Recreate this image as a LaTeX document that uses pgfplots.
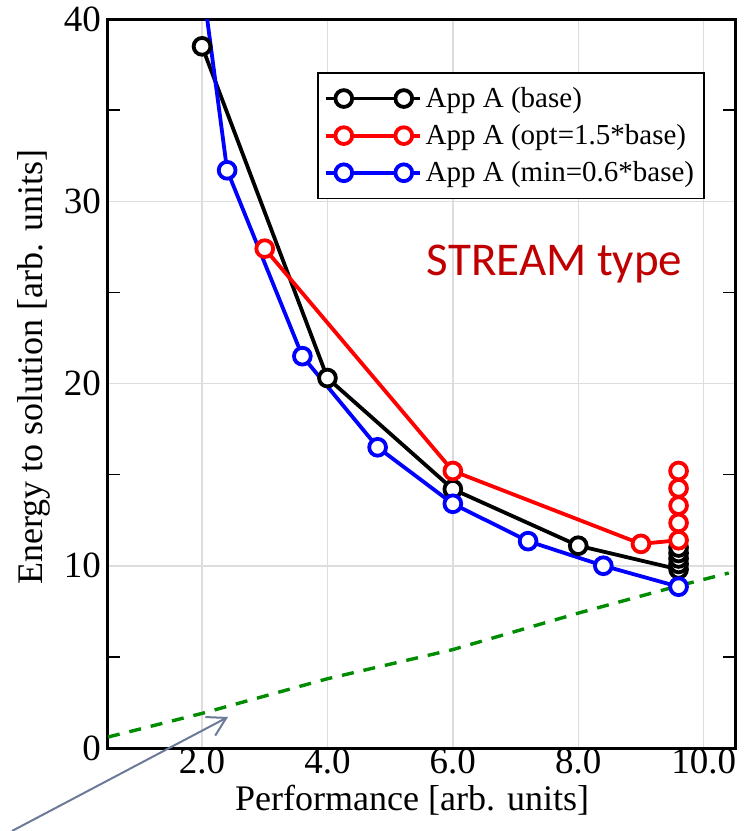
\documentclass[border=0pt]{standalone}
\usepackage{pgfplots}
\pgfplotsset{compat=1.18}
\usepackage{fontspec}
\setmainfont{Liberation Serif}
\newfontfamily\calibri{Carlito}
\usetikzlibrary{arrows.meta}
\definecolor{streamred}{RGB}{192,0,0}
\definecolor{arrowgray}{RGB}{107,122,153}
\definecolor{dgreen}{RGB}{0,140,0}
\definecolor{gridgray}{RGB}{221,221,221}
\begin{document}
\begin{tikzpicture}
\begin{axis}[name=ax,
  scale only axis, width=313.5pt, height=364.5pt,
  xmin=0.5, xmax=10.5, ymin=0, ymax=40,
  xtick={2,4,6,8,10}, ytick={0,10,20,30,40},
  minor ytick={5,15,25,35},
  xticklabel style={yshift=3pt, /pgf/number format/.cd, fixed, fixed zerofill, precision=1},
  /pgf/number format/assume math mode=true,
  grid=major, major grid style={gridgray, line width=0.75pt},
  major tick length=0pt, minor tick length=6pt,
  tick style={black, line width=0.75pt},
  axis line style={line width=1.5pt},
  tick align=inside,
  ticklabel style={font=\fontsize{18.5}{20}\selectfont},
  label style={font=\fontsize{18}{20}\selectfont},
  xlabel={Performance [arb. units]},
  ylabel={Energy to solution [arb. units]},
  xlabel style={at={(ticklabel cs:0.485)}, yshift=1.5pt},
  ylabel style={at={(ticklabel cs:0.523)}},
  legend style={at={(0.952,0.927)}, anchor=north east, font=\fontsize{14.5}{17}\selectfont, draw=black, line width=0.75pt, row sep=3pt, inner ysep=5pt},
  legend cell align=left,
  legend image code/.code={\path (-9pt,0pt) -- (38pt,0pt); \draw[#1] plot coordinates {(0pt,0pt) (30pt,0pt)};},
  every axis plot/.append style={line width=1.9pt, mark=*, mark size=4.2pt, mark options={fill=white, solid}},
]
\addplot[black] coordinates {(2.0,38.5) (4.0,20.3) (6.0,14.2) (8.0,11.1) (9.6,9.8) (9.6,10.1) (9.6,10.4) (9.6,10.7) (9.6,11.0)};
\addlegendentry{App A (base)}
\addplot[red] coordinates {(3.0,27.4) (6.0,15.2) (9.0,11.2) (9.6,11.4) (9.6,12.35) (9.6,13.3) (9.6,14.25) (9.6,15.2)};
\addlegendentry{App A (opt=1.5*base)}
\addplot[blue] coordinates {(1.2,63) (2.4,31.7) (3.6,21.5) (4.8,16.5) (6.0,13.4) (7.2,11.35) (8.4,10.0) (9.6,8.85)};
\addlegendentry{App A (min=0.6*base)}
\addplot[dgreen, mark=none, line width=1.7pt, dash pattern=on 6pt off 5pt, forget plot] coordinates {(0.5,0.6) (2.0,1.9) (4.0,3.8) (6.0,5.4) (8.0,7.4) (9.6,8.9) (10.4,9.6)};
\node[anchor=base west, text=streamred, font=\calibri\fontsize{23.5}{26}\selectfont, inner sep=0pt] at (axis cs:5.58,25.9) {STREAM type};
\end{axis}
\draw[arrowgray, line width=1pt, -{Straight Barb[length=9pt,width=10.5pt]}] ([xshift=-48pt,yshift=-41.5pt]ax.south west) -- ([xshift=60pt,yshift=15.5pt]ax.south west);
\pgfresetboundingbox
\path[use as bounding box] ([xshift=-54pt,yshift=-41.5pt]ax.south west) rectangle ([xshift=320.5pt,yshift=374pt]ax.south west);
\end{tikzpicture}
\end{document}
